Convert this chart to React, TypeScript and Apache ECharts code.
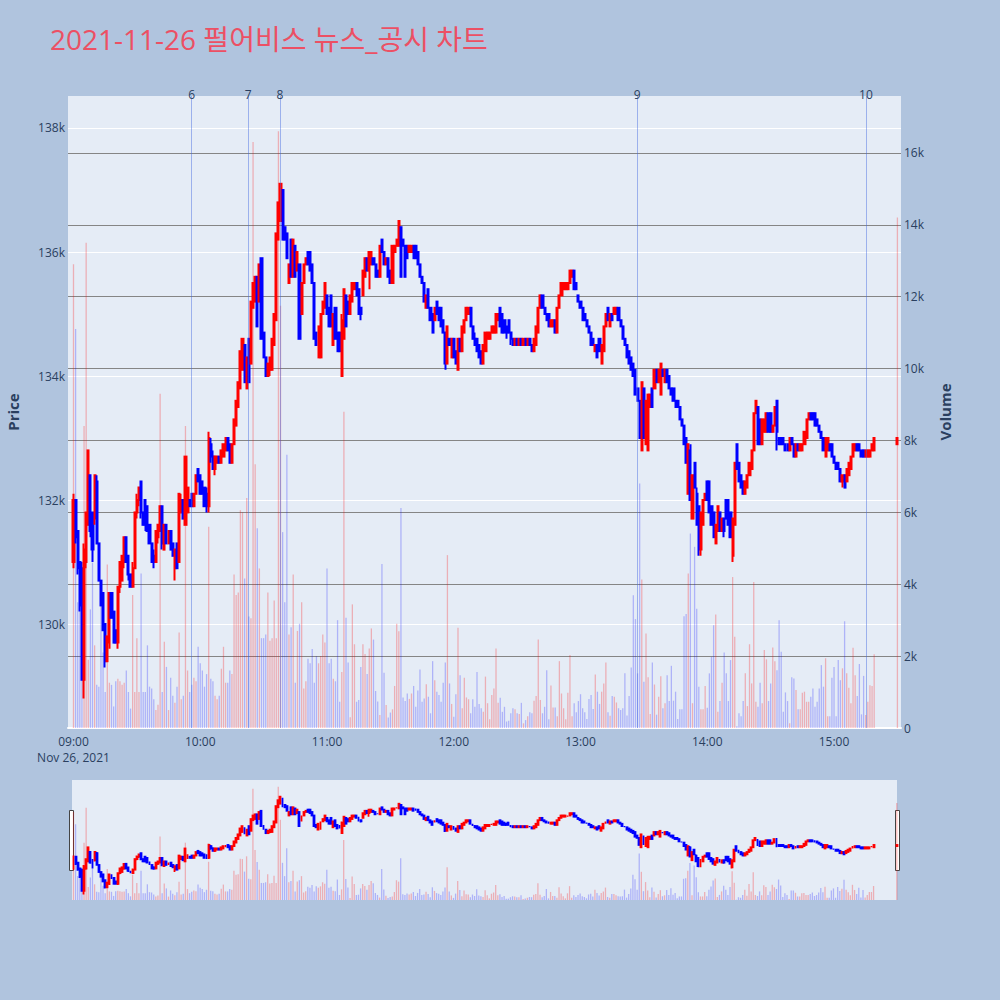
import React, { useEffect, useRef } from 'react';
import * as echarts from 'echarts';

const TITLE = '2021-11-26 펄어비스 뉴스_공시 차트';
const SESSION_DATE = 'Nov 26, 2021';
const OPEN_MIN = 9 * 60; // 09:00

// One-minute candles from 09:00, [open, close, low, high] in units of 100 KRW
const candles: number[][] = [
  [1310,1320,1309,1321],[1320,1314,1313,1320],[1315,1309,1308,1315],[1310,1303,1302,1310],[1309,1291,1291,1310],[1291,1312,1288,1313],[1310,1318,1309,1318],[1316,1328,1316,1328],[1324,1315,1314,1324],[1318,1312,1310,1318],
  [1317,1324,1316,1324],[1323,1313,1313,1324],[1313,1307,1307,1313],[1307,1303,1303,1307],[1305,1299,1299,1305],[1300,1294,1293,1300],[1294,1298,1294,1298],[1297,1305,1296,1305],[1305,1301,1301,1305],[1302,1297,1297,1302],
  [1299,1297,1297,1299],[1297,1306,1296,1306],[1306,1310,1305,1310],[1307,1311,1307,1311],[1310,1314,1309,1314],[1314,1310,1310,1314],[1311,1308,1307,1311],[1308,1306,1306,1308],[1306,1309,1306,1310],[1309,1318,1309,1318],
  [1318,1320,1317,1321],[1320,1322,1319,1322],[1323,1318,1317,1323],[1318,1316,1316,1318],[1320,1316,1315,1320],[1319,1315,1315,1319],[1316,1313,1313,1316],[1313,1310,1310,1313],[1311,1310,1309,1312],[1310,1315,1310,1315],
  [1314,1316,1313,1316],[1315,1319,1315,1319],[1319,1313,1312,1319],[1312,1316,1312,1316],[1316,1313,1313,1316],[1313,1315,1313,1315],[1315,1312,1312,1315],[1313,1311,1311,1313],[1309,1312,1307,1312],[1313,1309,1309,1313],
  [1310,1321,1310,1321],[1318,1320,1318,1321],[1320,1317,1317,1320],[1316,1327,1316,1327],[1318,1322,1318,1322],[1320,1319,1319,1320],[1321,1319,1319,1321],[1319,1321,1319,1321],[1321,1324,1321,1324],[1325,1323,1323,1325],
  [1324,1321,1321,1324],[1323,1321,1321,1323],[1322,1319,1319,1322],[1321,1319,1318,1322],[1319,1330,1318,1331],[1329,1327,1326,1330],[1327,1325,1325,1328],[1325,1327,1324,1327],[1326,1327,1326,1327],[1327,1326,1326,1327],
  [1326,1328,1326,1328],[1327,1329,1327,1329],[1328,1330,1328,1330],[1330,1328,1328,1330],[1329,1326,1326,1329],[1326,1329,1326,1329],[1329,1333,1329,1333],[1332,1336,1332,1336],[1335,1339,1335,1339],[1338,1344,1338,1344],
  [1341,1346,1341,1346],[1345,1339,1339,1345],[1338,1343,1338,1343],[1346,1339,1339,1346],[1342,1352,1342,1352],[1351,1355,1351,1355],[1352,1356,1352,1356],[1356,1348,1348,1356],[1352,1358,1352,1358],[1359,1346,1346,1359],
  [1347,1343,1343,1347],[1343,1340,1340,1343],[1340,1342,1340,1342],[1341,1343,1340,1343],[1341,1346,1341,1346],[1345,1350,1345,1350],[1349,1363,1349,1363],[1362,1368,1362,1368],[1365,1371,1365,1371],[1370,1362,1362,1370],
  [1364,1362,1362,1364],[1363,1359,1359,1363],[1355,1358,1355,1358],[1362,1356,1356,1362],[1356,1362,1356,1362],[1361,1356,1356,1361],[1357,1360,1357,1360],[1358,1346,1346,1358],[1350,1355,1350,1355],[1355,1358,1355,1358],
  [1358,1359,1358,1359],[1360,1358,1358,1360],[1360,1357,1357,1360],[1358,1355,1355,1358],[1355,1346,1346,1355],[1347,1345,1345,1347],[1343,1348,1343,1348],[1343,1350,1343,1350],[1350,1352,1350,1352],[1351,1355,1351,1355],
  [1353,1350,1350,1353],[1351,1348,1348,1351],[1353,1348,1348,1353],[1345,1350,1345,1350],[1351,1346,1346,1351],[1347,1344,1344,1347],[1347,1344,1344,1347],[1340,1349,1340,1350],[1346,1354,1346,1354],[1353,1348,1348,1353],
  [1352,1350,1350,1352],[1350,1353,1350,1353],[1352,1355,1352,1355],[1354,1355,1354,1355],[1355,1353,1353,1355],[1354,1350,1350,1354],[1351,1350,1349,1351],[1353,1357,1353,1357],[1356,1359,1356,1359],[1359,1357,1357,1359],
  [1357,1360,1354,1360],[1358,1360,1358,1360],[1359,1358,1358,1359],[1358,1356,1356,1358],[1357,1356,1356,1357],[1356,1361,1356,1361],[1362,1360,1360,1362],[1360,1358,1358,1360],[1358,1359,1358,1359],[1359,1356,1356,1359],
  [1357,1355,1355,1357],[1355,1361,1355,1361],[1360,1361,1360,1361],[1361,1362,1361,1362],[1361,1365,1361,1365],[1364,1356,1356,1364],[1362,1361,1361,1362],[1361,1356,1356,1361],[1361,1359,1359,1361],[1360,1361,1360,1361],
  [1360,1361,1360,1361],[1361,1359,1359,1361],[1361,1359,1359,1361],[1360,1358,1358,1360],[1358,1356,1356,1358],[1356,1355,1355,1356],[1355,1352,1352,1355],[1351,1353,1351,1353],[1354,1351,1351,1354],[1351,1349,1349,1351],
  [1350,1347,1347,1350],[1349,1351,1349,1351],[1352,1350,1350,1352],[1351,1349,1349,1351],[1351,1348,1348,1351],[1349,1347,1347,1349],[1347,1342,1341,1347],[1342,1348,1342,1348],[1346,1345,1345,1346],[1343,1346,1343,1346],
  [1346,1343,1343,1346],[1344,1342,1342,1344],[1341,1346,1341,1346],[1346,1344,1344,1346],[1344,1348,1344,1348],[1347,1349,1347,1349],[1349,1351,1349,1351],[1350,1351,1350,1351],[1351,1348,1348,1351],[1348,1346,1346,1348],
  [1346,1345,1345,1347],[1346,1344,1344,1346],[1345,1343,1343,1345],[1344,1342,1342,1344],[1342,1345,1342,1345],[1344,1347,1344,1347],[1346,1347,1346,1347],[1346,1347,1346,1347],[1347,1348,1347,1348],[1347,1348,1347,1348],
  [1347,1350,1347,1350],[1349,1350,1349,1350],[1351,1348,1348,1351],[1350,1347,1347,1350],[1349,1347,1347,1349],[1348,1347,1346,1348],[1349,1347,1347,1349],[1347,1346,1345,1347],[1346,1345,1345,1346],[1345,1346,1345,1346],
  [1346,1345,1345,1346],[1345,1346,1345,1346],[1346,1345,1345,1346],[1345,1346,1345,1346],[1346,1345,1345,1346],[1345,1346,1345,1346],[1346,1345,1345,1346],[1345,1344,1344,1345],[1344,1346,1344,1346],[1345,1348,1345,1348],
  [1347,1351,1347,1351],[1351,1353,1351,1353],[1353,1351,1351,1353],[1351,1350,1350,1351],[1350,1349,1349,1350],[1350,1348,1348,1350],[1348,1349,1348,1349],[1348,1349,1348,1349],[1349,1347,1347,1349],[1347,1351,1347,1351],
  [1351,1353,1351,1353],[1353,1355,1353,1355],[1354,1355,1354,1355],[1354,1355,1354,1355],[1354,1355,1354,1355],[1355,1357,1355,1357],[1356,1357,1356,1357],[1357,1354,1354,1357],[1355,1354,1354,1355],[1353,1352,1352,1353],
  [1352,1351,1351,1352],[1351,1349,1349,1351],[1350,1349,1349,1350],[1349,1348,1348,1349],[1348,1347,1347,1348],[1347,1345,1345,1347],[1346,1345,1345,1346],[1344,1345,1344,1345],[1345,1343,1343,1345],[1346,1344,1344,1346],
  [1342,1345,1342,1345],[1344,1348,1344,1348],[1348,1350,1348,1350],[1351,1349,1349,1351],[1348,1350,1348,1350],[1350,1349,1349,1350],[1350,1351,1350,1351],[1350,1351,1350,1351],[1351,1349,1349,1351],[1349,1348,1348,1349],
  [1348,1346,1346,1348],[1346,1345,1345,1346],[1345,1343,1343,1345],[1344,1342,1342,1344],[1343,1341,1341,1343],[1342,1340,1340,1342],[1341,1337,1337,1341],[1338,1336,1336,1338],[1336,1330,1330,1336],[1328,1339,1328,1339],
  [1338,1330,1330,1338],[1329,1336,1329,1336],[1328,1337,1328,1337],[1335,1337,1335,1337],[1338,1335,1335,1338],[1338,1341,1338,1341],[1341,1339,1339,1341],[1339,1341,1339,1341],[1337,1342,1337,1342],[1341,1340,1340,1341],
  [1339,1341,1339,1341],[1341,1339,1339,1341],[1340,1338,1338,1340],[1338,1337,1337,1338],[1338,1336,1336,1338],[1336,1335,1335,1336],[1336,1335,1335,1336],[1335,1333,1333,1335],[1333,1332,1332,1333],[1332,1329,1329,1332],
  [1330,1326,1326,1330],[1321,1329,1321,1329],[1328,1320,1320,1329],[1317,1324,1317,1324],[1326,1322,1322,1326],[1321,1316,1316,1322],[1319,1312,1311,1319],[1312,1318,1311,1318],[1316,1320,1316,1320],[1320,1321,1320,1321],
  [1323,1320,1320,1323],[1323,1318,1318,1323],[1319,1316,1316,1319],[1318,1314,1314,1318],[1313,1316,1313,1316],[1315,1319,1315,1319],[1318,1315,1315,1318],[1315,1317,1315,1317],[1317,1315,1314,1317],[1320,1317,1317,1320],
  [1320,1316,1316,1320],[1318,1314,1314,1318],[1311,1317,1310,1317],[1316,1326,1316,1326],[1329,1325,1325,1329],[1326,1323,1323,1326],[1324,1322,1322,1324],[1323,1321,1321,1323],[1321,1323,1321,1323],[1322,1324,1322,1324],
  [1324,1326,1324,1326],[1325,1328,1325,1328],[1328,1334,1328,1334],[1334,1336,1334,1336],[1335,1329,1329,1335],[1333,1329,1329,1333],[1329,1333,1329,1333],[1331,1333,1331,1333],[1331,1334,1331,1334],[1334,1331,1331,1334],
  [1334,1331,1331,1334],[1331,1332,1331,1332],[1332,1335,1332,1335],[1336,1331,1328,1336],[1330,1329,1329,1330],[1330,1329,1329,1330],[1330,1329,1329,1330],[1329,1328,1328,1329],[1329,1328,1328,1329],[1328,1330,1328,1330],
  [1330,1329,1329,1330],[1329,1327,1327,1329],[1327,1329,1327,1329],[1329,1328,1328,1329],[1328,1329,1328,1329],[1328,1329,1328,1329],[1329,1331,1329,1331],[1330,1333,1330,1333],[1333,1334,1333,1334],[1334,1333,1333,1334],
  [1334,1333,1333,1334],[1334,1332,1332,1334],[1333,1332,1332,1333],[1332,1331,1331,1332],[1331,1330,1330,1331],[1330,1328,1328,1330],[1327,1330,1327,1330],[1328,1330,1328,1330],[1329,1328,1328,1329],[1329,1327,1327,1329],
  [1327,1326,1326,1327],[1326,1325,1325,1326],[1326,1325,1325,1326],[1325,1323,1323,1325],[1323,1324,1322,1324],[1324,1322,1322,1324],[1323,1325,1323,1325],[1324,1326,1324,1326],[1325,1327,1325,1327],[1327,1329,1327,1329],
  [1328,1329,1328,1329],[1329,1328,1328,1329],[1329,1328,1328,1329],[1328,1327,1327,1328],[1328,1327,1327,1328],[1327,1328,1327,1328],[1327,1328,1327,1328],[1327,1328,1327,1328],[1328,1329,1328,1329],[1328,1330,1328,1330],
];

// Volume per minute, thousand shares
const volumes: number[] = [
  12.9,11.1,3.5,3.7,4.0,8.4,13.5,1.9,3.3,4.6,
  2.3,1.2,1.15,4.05,2.1,1.0,4.55,1.26,1.2,0.6,
  1.3,1.37,1.3,1.2,1.26,1.6,1.0,0.54,3.7,1.0,
  2.5,1.0,4.3,1.0,1.0,2.3,1.15,1.1,0.8,0.5,
  0.65,9.3,1.0,2.4,1.7,0.5,1.4,0.9,0.7,1.15,
  2.66,0.8,0.9,8.4,1.6,1.0,1.2,1.4,1.3,2.26,
  1.8,1.6,1.15,1.5,5.6,1.37,1.3,0.9,0.8,0.9,
  1.65,2.26,1.26,1.26,1.6,1.5,4.27,3.7,3.77,6.06,
  6.0,4.16,6.4,3.1,3.05,16.3,7.34,5.56,4.44,2.5,
  2.5,2.6,3.77,2.43,2.5,3.55,2.5,16.6,11.75,5.45,
  3.5,7.6,2.6,2.8,4.27,1.26,2.7,2.9,3.5,1.1,
  1.3,1.93,1.8,2.2,1.26,2.0,1.8,2.0,2.6,2.38,
  4.44,1.8,1.93,1.37,1.3,3.0,0.73,1.56,8.8,3.07,
  1.82,0.3,3.44,2.33,0.73,0.78,1.7,2.33,2.06,1.5,
  2.21,2.77,2.46,1.03,0.74,0.36,4.56,1.54,0.64,0.29,
  0.43,0.52,1.17,2.9,2.69,6.12,0.85,0.75,0.96,0.81,
  0.96,1.17,0.59,1.04,1.63,0.73,0.82,1.22,0.87,0.41,
  1.86,1.33,1.01,0.92,0.73,1.26,1.82,4.81,1.24,0.67,
  0.31,0.94,2.79,1.47,0.55,1.4,0.85,0.8,0.41,0.8,
  0.59,1.56,0.67,0.55,0.45,1.43,0.69,0.24,0.92,1.1,
  2.21,0.7,0.84,0.45,0.59,0.18,0.2,0.41,0.55,0.52,
  0.41,0.39,0.7,0.13,0.22,0.33,0.44,0.41,0.76,0.89,
  2.46,0.78,0.41,0.59,1.61,0.24,1.18,0.57,0.57,0.33,
  1.86,0.96,0.55,0.24,0.98,2.03,0.33,0.69,0.44,0.75,
  0.94,0.55,0.44,0.25,0.81,0.92,0.53,1.49,1.01,0.67,
  1.01,1.24,1.82,0.44,0.34,0.89,0.87,0.71,0.55,0.5,
  0.55,1.52,0.35,0.89,1.68,3.69,3.03,1.52,6.8,4.13,
  1.29,2.63,1.41,0.39,1.82,1.21,0.37,0.87,1.44,0.55,
  0.69,1.47,0.75,1.73,0.76,1.01,0.25,0.52,0.52,3.11,
  3.17,4.3,5.41,0.69,5.04,3.32,1.15,0.52,0.52,1.17,
  0.56,1.52,1.98,2.86,3.16,0.45,0.75,1.26,2.1,1.52,
  0.75,1.89,4.2,2.54,0.05,0.41,0.33,0.75,1.52,0.61,
  2.33,1.24,4.06,0.73,0.59,1.26,0.69,2.17,1.91,0.75,
  1.24,2.24,1.86,1.61,3.0,2.12,0.45,0.99,0.75,0.13,
  1.41,1.38,1.06,0.52,0.52,0.98,1.01,0.73,0.73,0.87,
  1.1,0.59,0.73,1.1,1.75,1.15,1.94,0.33,0.33,1.4,
  1.7,0.33,1.89,1.33,1.66,2.97,1.52,1.12,0.69,2.23,
  1.47,0.89,1.78,0.38,1.45,0.36,0.73,1.19,1.17,2.05,
];

// Closing auction at 15:30
const closeMinute = 390;
const closeCandle = [1329, 1330, 1329, 1330];
const closeVolume = 14.2;

// News / disclosure markers (minutes after 09:00)
const newsLabels = ['6', '7', '8', '9', '10'];
const newsMinutes = [55.9, 82.7, 97.7, 266.8, 375.1];

const hourTicks = [0, 60, 120, 180, 240, 300, 360];
const priceTicks = [130000, 132000, 134000, 136000, 138000];
const volumeTicks = [0, 2000, 4000, 6000, 8000, 10000, 12000, 14000, 16000];

const PRICE_MIN = 128323;
const PRICE_MAX = 138516;
const VOL_MAX = 17583;

const UP = '#ff0000';
const DOWN = '#0000ff';
const FONT = '"Open Sans", "Noto Sans CJK KR", sans-serif';
const AXIS_COLOR = '#2a3f5f';

function fmtTime(m: number) {
  const t = OPEN_MIN + Math.round(m);
  const h = Math.floor(t / 60);
  const mm = t % 60;
  return String(h).padStart(2, '0') + ':' + String(mm).padStart(2, '0');
}

export default function App() {
  const ref = useRef<HTMLDivElement>(null);

  useEffect(() => {
    if (!ref.current) return;
    const chart = echarts.init(ref.current, undefined, { renderer: 'svg' });

    const minutes = candles.map((_, i) => i).concat([closeMinute]);
    const allCandles = candles.concat([closeCandle]);
    const allVolumes = volumes.concat([closeVolume]);

    const candleData = allCandles.map((c, i) => [minutes[i], c[0] * 100, c[1] * 100, c[2] * 100, c[3] * 100]);
    const volumeData = allVolumes.map((v, i) => ({
      value: [minutes[i], v * 1000],
      itemStyle: {
        color: allCandles[i][1] >= allCandles[i][0] ? 'rgba(255,0,0,0.26)' : 'rgba(0,0,255,0.24)',
      },
    }));

    const candleStyle = (w: number) => ({
      color: UP,
      color0: DOWN,
      borderColor: UP,
      borderColor0: DOWN,
      borderWidth: w,
    });

    const option: any = {
      animation: false,
      backgroundColor: '#b0c4de',
      title: {
        text: TITLE,
        left: 45,
        top: 20,
        textStyle: { color: '#ec5064', fontSize: 28, fontWeight: 'normal', fontFamily: FONT },
      },
      grid: [
        { left: 68, right: 99, top: 96, height: 632, show: true, backgroundColor: '#e5ecf6', borderWidth: 0, containLabel: false, outerBoundsMode: 'none' },
        { left: 72, right: 103, top: 780, height: 120, show: true, backgroundColor: '#e5ecf6', borderWidth: 0, containLabel: false, outerBoundsMode: 'none' },
      ],
      xAxis: [
        {
          type: 'value',
          gridIndex: 0,
          min: -2.6,
          max: 391.7,
          axisLine: { show: true, lineStyle: { color: '#ffffff', width: 2 } },
          axisTick: { show: false, customValues: hourTicks },
          axisLabel: {
            customValues: hourTicks,
            color: AXIS_COLOR,
            fontSize: 12,
            fontFamily: FONT,
            lineHeight: 16,
            margin: 5,
            formatter: (v: number) => (v === hourTicks[0] ? fmtTime(v) + '\n' + SESSION_DATE : fmtTime(v)),
          },
          splitLine: { show: false },
        },
        { type: 'value', gridIndex: 1, min: -0.7, max: 390.1, show: false },
      ],
      yAxis: [
        {
          type: 'value',
          gridIndex: 0,
          position: 'left',
          min: PRICE_MIN,
          max: PRICE_MAX,
          name: 'Price',
          nameLocation: 'middle',
          nameGap: 48,
          nameTextStyle: { color: AXIS_COLOR, fontSize: 15, fontWeight: 'bold', fontFamily: FONT },
          axisLine: { show: false },
          axisTick: { show: false, customValues: priceTicks },
          axisLabel: {
            customValues: priceTicks,
            color: AXIS_COLOR,
            fontSize: 12,
            fontFamily: FONT,
            margin: 3,
            formatter: (v: number) => v / 1000 + 'k',
          },
          splitLine: { show: true, lineStyle: { color: '#ffffff', width: 1 } },
        },
        {
          type: 'value',
          gridIndex: 0,
          position: 'right',
          min: 0,
          max: VOL_MAX,
          name: 'Volume',
          nameLocation: 'middle',
          nameGap: 36,
          nameTextStyle: { color: AXIS_COLOR, fontSize: 15, fontWeight: 'bold', fontFamily: FONT },
          axisLine: { show: false },
          axisTick: { show: false, customValues: volumeTicks },
          axisLabel: {
            customValues: volumeTicks,
            color: AXIS_COLOR,
            fontSize: 12,
            fontFamily: FONT,
            margin: 3,
            formatter: (v: number) => (v === 0 ? '0' : v / 1000 + 'k'),
          },
          splitLine: { show: true, showMinLine: false, lineStyle: { color: '#858585', width: 1 } },
        },
        { type: 'value', gridIndex: 1, min: PRICE_MIN, max: PRICE_MAX, show: false },
        { type: 'value', gridIndex: 1, min: 0, max: VOL_MAX, show: false },
      ],
      series: [
        {
          type: 'bar',
          name: 'Volume',
          xAxisIndex: 0,
          yAxisIndex: 1,
          data: volumeData,
          barWidth: 1.3,
          z: 1,
          silent: true,
        },
        {
          type: 'candlestick',
          name: 'Price',
          xAxisIndex: 0,
          yAxisIndex: 0,
          data: candleData,
          barWidth: 1.6,
          itemStyle: candleStyle(2),
          z: 3,
          silent: true,
          markLine: {
            silent: true,
            symbol: ['none', 'none'],
            lineStyle: { color: 'rgba(65,105,225,0.45)', width: 1, type: 'solid' },
            label: {
              show: true,
              position: 'end',
              formatter: '{b}',
              color: AXIS_COLOR,
              fontSize: 12,
              fontFamily: FONT,
              distance: -4,
            },
            data: newsMinutes.map((m, i) => ({ xAxis: m, name: newsLabels[i] })),
          },
        },
        {
          type: 'bar',
          xAxisIndex: 1,
          yAxisIndex: 3,
          data: volumeData,
          barWidth: 1.3,
          z: 1,
          silent: true,
        },
        {
          type: 'candlestick',
          xAxisIndex: 1,
          yAxisIndex: 2,
          data: candleData,
          barWidth: 1.4,
          itemStyle: candleStyle(1.8),
          z: 3,
          silent: true,
        },
      ],
      graphic: [
        { type: 'rect', left: 69, top: 810, shape: { width: 4, height: 60 }, style: { fill: '#ffffff', stroke: '#444444', lineWidth: 1 } },
        { type: 'rect', left: 895, top: 810, shape: { width: 4, height: 60 }, style: { fill: '#ffffff', stroke: '#444444', lineWidth: 1 } },
      ],
    };

    chart.setOption(option);
    return () => chart.dispose();
  }, []);

  return (
    <div
      ref={ref}
      style={{ position: 'fixed', left: 0, top: 0, width: 1000, height: 1000 }}
    />
  );
}
